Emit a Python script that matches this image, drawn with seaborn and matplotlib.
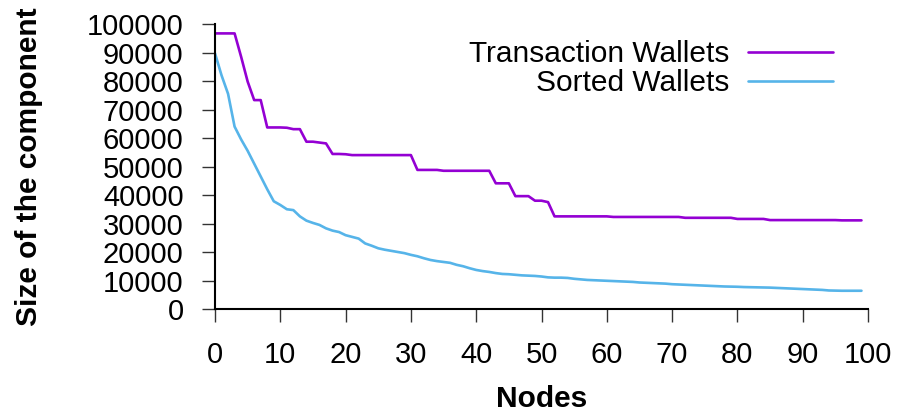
import matplotlib
matplotlib.use("Agg")
import matplotlib.pyplot as plt
import seaborn as sns
import pandas as pd
import numpy as np

nodes = list(range(100))

transaction_wallets = [
    96700, 96700, 96700, 96700, 88500, 79800, 73300, 73300, 63700, 63700,
    63700, 63600, 63100, 63100, 58700, 58700, 58400, 58100, 54400, 54400,
    54300, 54000, 54000, 54000, 54000, 54000, 54000, 54000, 54000, 54000,
    54000, 48800, 48800, 48800, 48800, 48500, 48500, 48500, 48500, 48500,
    48500, 48500, 48500, 44100, 44100, 44100, 39600, 39600, 39600, 38000,
    38000, 37500, 32500, 32500, 32500, 32500, 32500, 32500, 32500, 32500,
    32500, 32300, 32300, 32300, 32300, 32300, 32300, 32300, 32300, 32300,
    32300, 32300, 32000, 32000, 32000, 32000, 32000, 32000, 32000, 32000,
    31600, 31600, 31600, 31600, 31600, 31200, 31200, 31200, 31200, 31200,
    31200, 31200, 31200, 31200, 31200, 31200, 31100, 31100, 31100, 31100,
]

sorted_wallets = [
    89700, 82000, 75500, 64000, 59500, 55500, 51000, 46500, 42000, 37800,
    36500, 35000, 34700, 32500, 31000, 30200, 29500, 28300, 27500, 27000,
    25900, 25300, 24700, 23000, 22200, 21300, 20800, 20400, 20000, 19600,
    19000, 18500, 17800, 17200, 16800, 16500, 16200, 15500, 15000, 14300,
    13700, 13300, 13000, 12600, 12300, 12200, 12000, 11800, 11700, 11600,
    11400, 11100, 11000, 11000, 10900, 10600, 10400, 10200, 10100, 10000,
    9900, 9800, 9700, 9600, 9500, 9300, 9200, 9100, 9000, 8900,
    8700, 8600, 8500, 8400, 8300, 8200, 8100, 8000, 7900, 7850,
    7800, 7700, 7650, 7600, 7550, 7500, 7400, 7300, 7200, 7100,
    7000, 6900, 6800, 6700, 6500, 6450, 6400, 6400, 6400, 6400,
]

series_names = ["Transaction Wallets", "Sorted Wallets"]
x_ticks = [0, 10, 20, 30, 40, 50, 60, 70, 80, 90, 100]
y_ticks = [0, 10000, 20000, 30000, 40000, 50000, 60000, 70000, 80000, 90000, 100000]

df = pd.DataFrame({
    "Nodes": nodes * 2,
    "Size": transaction_wallets + sorted_wallets,
    "Series": [series_names[0]] * len(nodes) + [series_names[1]] * len(nodes),
})

sns.set_style("ticks")
plt.rcParams["font.family"] = ["Liberation Sans", "DejaVu Sans"]
plt.rcParams["text.color"] = "black"

W, H = 899, 411
fig = plt.figure(figsize=(W / 100, H / 100), dpi=100)
ax = fig.add_axes([215 / W, 1 - 309 / H, (868 - 215) / W, (309 - 24) / H])

palette = {series_names[0]: "#9400D3", series_names[1]: "#56B4E9"}
sns.lineplot(data=df, x="Nodes", y="Size", hue="Series", palette=palette,
             linewidth=1.9, ax=ax, legend=True)

ax.set_xlim(0, 100)
ax.set_ylim(0, 100000)
ax.set_xticks(x_ticks)
ax.set_yticks(y_ticks)
ax.set_xticklabels([str(t) for t in x_ticks])
ax.set_yticklabels([str(t) for t in y_ticks])

fs_tick = 21
fs = 21.5
ax.tick_params(axis="both", direction="out", length=9.5, width=1.0,
               color="#333333", labelsize=fs_tick, labelcolor="black")
ax.tick_params(axis="x", pad=13.5)
ax.tick_params(axis="y", pad=13)

for s in ["top", "right"]:
    ax.spines[s].set_visible(False)
for s in ["left", "bottom"]:
    ax.spines[s].set_color("black")
    ax.spines[s].set_linewidth(1.5)

ax.set_xlabel("")
ax.set_ylabel("")
fig.text(541.5 / W, 1 - 406.5 / H, "Nodes", fontsize=fs, fontweight="bold",
         ha="center", va="baseline", color="black")
fig.text(29.5 / W, 1 - 166.5 / H, "Size of the component", fontsize=fs,
         fontweight="bold", rotation=90, ha="center", va="center", color="black")

handles, labels = ax.get_legend_handles_labels()
leg = ax.legend(handles, labels, loc="upper right", markerfirst=False,
                frameon=False, fontsize=fs, handlelength=2.85,
                handletextpad=0.62, labelspacing=0.05, borderpad=0, borderaxespad=0,
                bbox_to_anchor=(833 / W, 1 - 40 / H), bbox_transform=fig.transFigure)
for t in leg.get_texts():
    t.set_ha("right")
    t.set_color("black")

fig.savefig("out.png", dpi=100)
